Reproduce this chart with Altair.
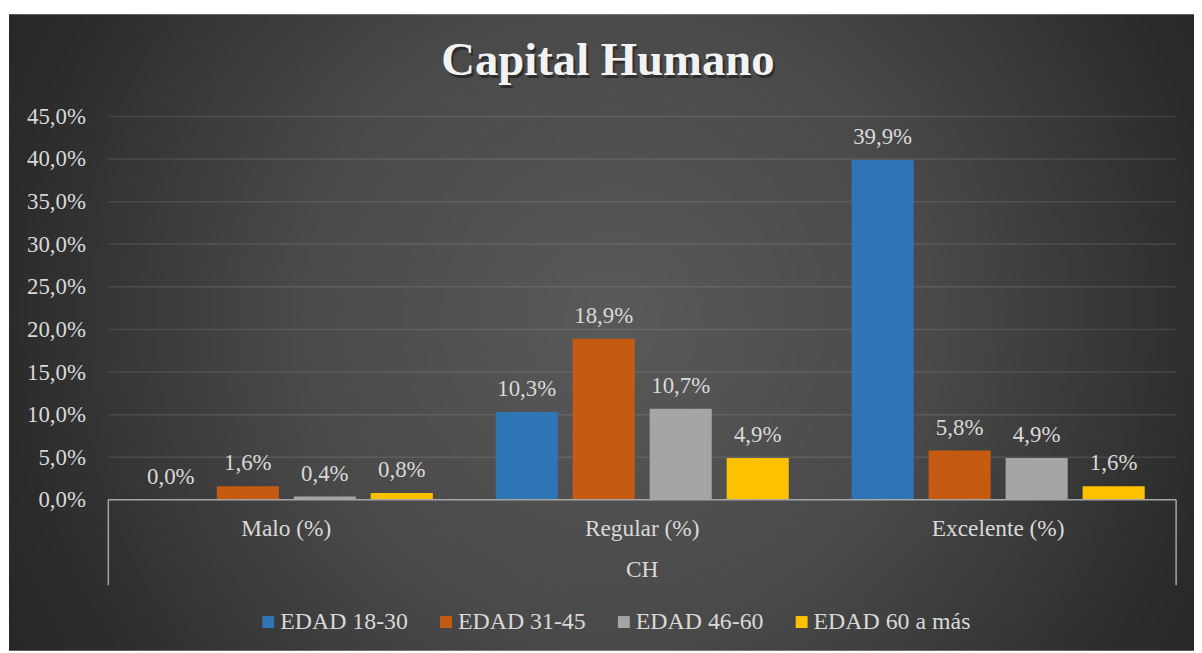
import altair as alt
import pandas as pd

categories = ["Malo (%)", "Regular (%)", "Excelente (%)"]
series = ["EDAD 18-30", "EDAD 31-45", "EDAD 46-60", "EDAD 60 a más"]
values_18_30 = [0.0, 10.3, 39.9]
values_31_45 = [1.6, 18.9, 5.8]
values_46_60 = [0.4, 10.7, 4.9]
values_60_mas = [0.8, 4.9, 1.6]
colors = ["#2e75b6", "#c55a11", "#a5a5a5", "#ffc000"]
y_ticks = [0, 5, 10, 15, 20, 25, 30, 35, 40, 45]
title_text = ["Capital Humano"]
axis_group = ["CH"]

rows = []
for s, vals in zip(series, [values_18_30, values_31_45, values_46_60, values_60_mas]):
    for c, v in zip(categories, vals):
        rows.append({"cat": c, "serie": s, "valor": v,
                     "label": f"{v:.1f}".replace(".", ",") + "%"})
df = pd.DataFrame(rows)

W, H = 1075, 386
FONT = "'Liberation Serif', 'Times New Roman', Times, serif"
TXT = "#d9d9d9"


def yenc(field):
    return alt.Y(f"{field}:Q", scale=alt.Scale(domain=[0, 45], nice=False, zero=True),
                 axis=alt.Axis(title=None, values=y_ticks, grid=False, domain=False, ticks=False,
                               labelPadding=23, labelFontSize=23, labelFont=FONT, labelColor=TXT,
                               zindex=2,
                               labelExpr="replace(format(datum.value, '.1f'), '.', ',') + '%'"))


xenc = alt.X("cat:N", sort=categories, scale=alt.Scale(paddingInner=0, paddingOuter=0),
             axis=alt.Axis(title=None, domain=False, ticks=False, labelPadding=29,
                           labelBaseline="middle", labelAngle=0, labelFontSize=23.5,
                           labelFont=FONT, labelColor=TXT, zindex=2))
xoenc = alt.XOffset("serie:N", sort=series,
                    scale=alt.Scale(paddingInner=0.1935, paddingOuter=0.408))

one = pd.DataFrame({"a": [0]})

gradient = {
    "gradient": "radial",
    "x1": 0.51, "y1": 0.49, "r1": 0,
    "x2": 0.51, "y2": 0.49, "r2": 0.587,
    "stops": [
        {"offset": 0, "color": "#595959"},
        {"offset": 0.46, "color": "#494949"},
        {"offset": 0.86, "color": "#2c2c2c"},
        {"offset": 1, "color": "#262626"},
    ],
}

bg = alt.Chart(one).mark_rect(fill=gradient, clip=False).encode(
    x=alt.value(-100), x2=alt.value(1093), y=alt.value(-103), y2=alt.value(538))

grid = alt.Chart(pd.DataFrame({"t": y_ticks[1:]})).mark_rule(
    color="white", opacity=0.1, strokeWidth=1.5).encode(y=yenc("t"))

bars = alt.Chart(df).mark_bar().encode(
    x=xenc, xOffset=xoenc, y=yenc("valor"),
    color=alt.Color("serie:N", sort=series, scale=alt.Scale(domain=series, range=colors),
                    legend=alt.Legend(title=None, orient="none", legendX=149, legendY=497,
                                      direction="horizontal", symbolType="square",
                                      symbolSize=144, symbolStrokeWidth=0,
                                      labelFontSize=24, labelFont=FONT, labelColor=TXT,
                                      labelOffset=0, columnPadding=26, padding=0, zindex=2)))

baseline = alt.Chart(one).mark_rule(color="#a6a6a6", strokeWidth=1.5).encode(
    x=alt.value(0), x2=alt.value(W), y=alt.value(H))
vleft = alt.Chart(one).mark_rule(color="#a6a6a6", strokeWidth=1.5, clip=False).encode(
    x=alt.value(0), y=alt.value(H), y2=alt.value(472))
vright = alt.Chart(one).mark_rule(color="#a6a6a6", strokeWidth=1.5, clip=False).encode(
    x=alt.value(W), y=alt.value(H), y2=alt.value(472))

labels = alt.Chart(df).mark_text(dy=-16, baseline="alphabetic", fontSize=23, font=FONT,
                                 color=TXT).encode(
    x=xenc, xOffset=xoenc, y=yenc("valor"), text="label:N")

ch = alt.Chart(pd.DataFrame({"t": axis_group})).mark_text(
    fontSize=23.5, font=FONT, color=TXT, baseline="middle").encode(
    x=alt.value(W / 2), y=alt.value(457), text="t:N")

title_shadow = alt.Chart(pd.DataFrame({"t": title_text})).mark_text(
    fontSize=47, font=FONT, fontWeight="bold", color="#000000", opacity=0.4,
    baseline="alphabetic", dx=2, dy=3).encode(
    x=alt.value(503), y=alt.value(-42), text="t:N")
title = alt.Chart(pd.DataFrame({"t": title_text})).mark_text(
    fontSize=47, font=FONT, fontWeight="bold", color="#f2f2f2",
    baseline="alphabetic").encode(
    x=alt.value(503), y=alt.value(-42), text="t:N")

chart = alt.layer(bg, grid, bars, baseline, vleft, vright, labels, ch, title_shadow, title).properties(
    width=W, height=H,
    padding={"left": 101, "top": 107, "right": 18, "bottom": 152},
    autosize=alt.AutoSizeParams(type="none"),
    background="white",
).configure_view(stroke=None)

chart.save("out.html", embed_options={"renderer": "svg", "actions": False})
